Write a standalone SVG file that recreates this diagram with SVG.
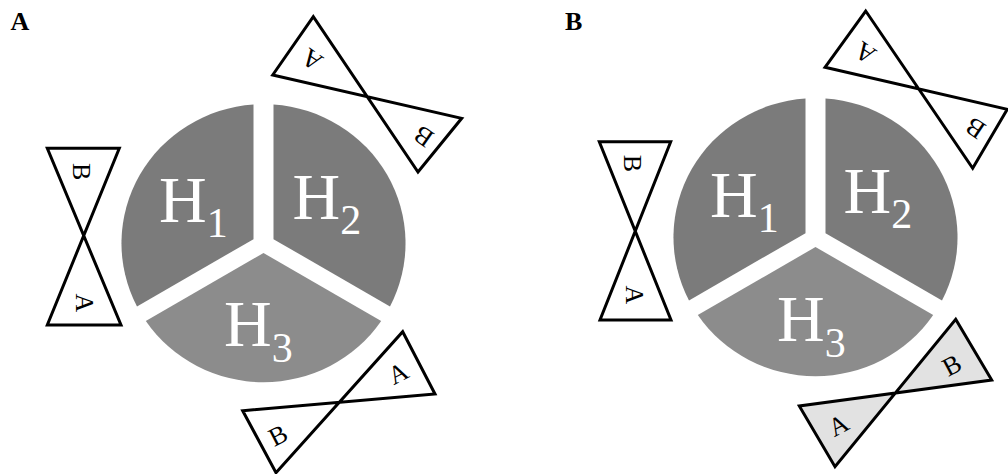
<svg xmlns="http://www.w3.org/2000/svg" width="1008" height="474" viewBox="0 0 1008 474">
<style>
.bg{fill:#ffffff}
.dark{fill:#7b7b7b}
.light{fill:#8c8c8c}
.serif{font-family:'Liberation Serif','Times New Roman',Times,serif}
.hl{font-size:66px;fill:#ffffff}
.sub{font-size:42px}
.tie{fill:#ffffff;stroke:#000000;stroke-width:3;stroke-linejoin:miter}
.tieg{fill:#e2e2e2;stroke:#000000;stroke-width:3;stroke-linejoin:miter}
.lt{font-size:26px;fill:#000000;text-anchor:middle}
.pl{font-size:26px;font-weight:bold;fill:#000000}
</style>
<rect class="bg" x="0" y="0" width="1008" height="474"/>
<g id="label-A"><text class="pl serif" x="10.5" y="30">A</text></g>
<g id="label-B"><text class="pl serif" x="565" y="30">B</text></g>

<g id="A-H1"><path class="dark" d="M253.5,239.16 L253.5,104.54 A142,139 0 0 0 137,306.4 Z"/><text class="hl serif" x="159" y="221.7">H<tspan class="sub" dy="15">1</tspan></text></g>
<g id="A-H2"><path class="dark" d="M273.5,239.16 L273.5,104.54 A142,139 0 0 1 390,306.4 Z"/><text class="hl serif" x="292.5" y="219">H<tspan class="sub" dy="14.5">2</tspan></text></g>
<g id="A-H3"><path class="light" d="M263.5,253 L381.2,321 A142,139 0 0 1 145.8,321 Z"/><text class="hl serif" x="224" y="346">H<tspan class="sub" dy="16">3</tspan></text></g>

<g id="A-tie-top"><path class="tie" d="M272.7,75 L313.3,16.7 L418,172 L461.7,118.3 Z"/><text class="lt serif" transform="translate(311.7,60) rotate(215)" y="9">A</text><text class="lt serif" transform="translate(423.3,136.7) rotate(215)" y="9">B</text></g>
<g id="A-tie-left"><path class="tie" d="M47.3,148.3 L119.3,148.3 L47.3,325 L121,325 Z"/><text class="lt serif" transform="translate(81.7,171.7) rotate(90)" y="9">B</text><text class="lt serif" transform="translate(85,303) rotate(90)" y="9">A</text></g>
<g id="A-tie-bottom"><path class="tie" d="M402.7,331.7 L435,394 L242.7,410.7 L276,472.7 Z"/><text class="lt serif" transform="translate(398,373) rotate(-27)" y="9">A</text><text class="lt serif" transform="translate(278,435) rotate(-27)" y="9">B</text></g>

<g id="B-H1"><path class="dark" d="M805.5,233.16 L805.5,98.54 A142,139 0 0 0 689,300.4 Z"/><text class="hl serif" x="710" y="216.7">H<tspan class="sub" dy="15">1</tspan></text></g>
<g id="B-H2"><path class="dark" d="M825.5,233.16 L825.5,98.54 A142,139 0 0 1 942,300.4 Z"/><text class="hl serif" x="843.5" y="213.3">H<tspan class="sub" dy="15">2</tspan></text></g>
<g id="B-H3"><path class="light" d="M815.5,247 L933.2,315 A142,139 0 0 1 697.8,315 Z"/><text class="hl serif" x="777" y="340.7">H<tspan class="sub" dy="16">3</tspan></text></g>

<g id="B-tie-top"><path class="tie" d="M825,67.3 L865.7,11 L972.7,168.3 L1007.3,109.3 Z"/><text class="lt serif" transform="translate(865,53.3) rotate(214)" y="9">A</text><text class="lt serif" transform="translate(975,128.3) rotate(214)" y="9">B</text></g>
<g id="B-tie-left"><path class="tie" d="M599.3,141.7 L670.7,141.7 L600,320 L671,320 Z"/><text class="lt serif" transform="translate(633.3,163.3) rotate(90)" y="9">B</text><text class="lt serif" transform="translate(635,295) rotate(90)" y="9">A</text></g>
<g id="B-tie-bottom"><path class="tieg" d="M955.7,319.3 L991.7,380 L799.3,406 L835,466.7 Z"/><text class="lt serif" transform="translate(951.7,365) rotate(-28)" y="9">B</text><text class="lt serif" transform="translate(838.3,425) rotate(-28)" y="9">A</text></g>

<g id="connectors"></g>
</svg>
